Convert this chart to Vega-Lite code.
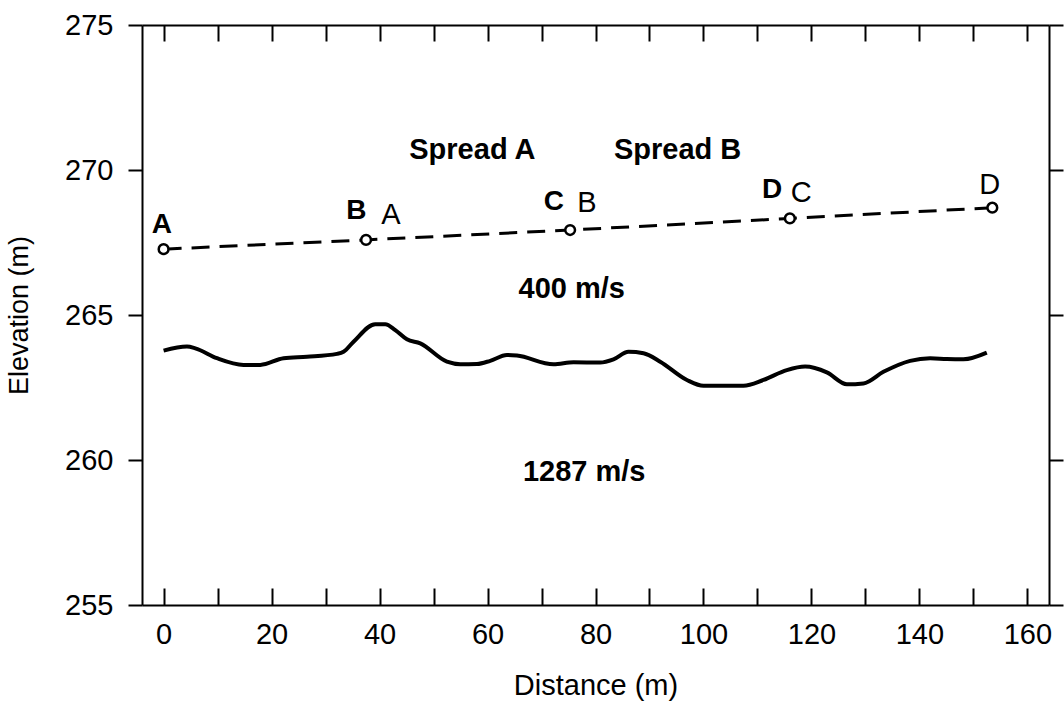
{
  "$schema": "https://vega.github.io/schema/vega-lite/v6.json",
  "width": 907,
  "height": 580,
  "autosize": "none",
  "padding": {"left": 142, "top": 25, "right": 15, "bottom": 104},
  "background": "white",
  "config": {
    "view": {"stroke": null},
    "font": "Liberation Sans",
    "axis": {
      "grid": false,
      "domainColor": "black",
      "domainWidth": 2,
      "tickColor": "black",
      "tickWidth": 2,
      "labelColor": "black",
      "labelFont": "Liberation Sans",
      "labelFontSize": 29,
      "titleFont": "Liberation Sans",
      "titleFontWeight": "normal",
      "titleColor": "black"
    }
  },
  "datasets": {
    "shot": [
      {"x": 0, "y": 267.27},
      {"x": 37.5, "y": 267.59},
      {"x": 75.3, "y": 267.93},
      {"x": 116.0, "y": 268.33},
      {"x": 153.5, "y": 268.7}
    ],
    "refractor": [
      {"x": 0, "y": 263.77},
      {"x": 4.33, "y": 263.91},
      {"x": 5.87, "y": 263.85},
      {"x": 9.89, "y": 263.51},
      {"x": 14.81, "y": 263.28},
      {"x": 17.91, "y": 263.28},
      {"x": 22.22, "y": 263.51},
      {"x": 26.56, "y": 263.56},
      {"x": 32.11, "y": 263.66},
      {"x": 33.33, "y": 263.73},
      {"x": 35.19, "y": 264.08},
      {"x": 39.2, "y": 264.68},
      {"x": 41.06, "y": 264.68},
      {"x": 42.91, "y": 264.48},
      {"x": 45.07, "y": 264.16},
      {"x": 47.54, "y": 264.02},
      {"x": 52.48, "y": 263.39},
      {"x": 54.94, "y": 263.3},
      {"x": 58.04, "y": 263.31},
      {"x": 60.5, "y": 263.42},
      {"x": 63.59, "y": 263.62},
      {"x": 65.44, "y": 263.6},
      {"x": 72.22, "y": 263.3},
      {"x": 75.93, "y": 263.37},
      {"x": 80.87, "y": 263.36},
      {"x": 83.33, "y": 263.47},
      {"x": 86.11, "y": 263.73},
      {"x": 88.89, "y": 263.68},
      {"x": 91.98, "y": 263.39},
      {"x": 96.93, "y": 262.76},
      {"x": 100.0, "y": 262.56},
      {"x": 107.41, "y": 262.56},
      {"x": 111.11, "y": 262.76},
      {"x": 115.44, "y": 263.1},
      {"x": 118.83, "y": 263.22},
      {"x": 122.85, "y": 263.02},
      {"x": 126.56, "y": 262.61},
      {"x": 129.63, "y": 262.64},
      {"x": 133.33, "y": 263.04},
      {"x": 138.28, "y": 263.42},
      {"x": 141.98, "y": 263.51},
      {"x": 145.07, "y": 263.48},
      {"x": 148.15, "y": 263.47},
      {"x": 152.48, "y": 263.7}
    ],
    "bold": [
      {"x": -0.3, "y": 268.1, "label": "A", "size": 28},
      {"x": 35.7, "y": 268.6, "label": "B", "size": 28},
      {"x": 72.3, "y": 268.91, "label": "C", "size": 28},
      {"x": 112.7, "y": 269.31, "label": "D", "size": 28},
      {"x": 57.2, "y": 270.69, "label": "Spread A", "size": 29},
      {"x": 95.2, "y": 270.69, "label": "Spread B", "size": 29},
      {"x": 75.6, "y": 265.88, "label": "400 m/s", "size": 29},
      {"x": 77.9, "y": 259.59, "label": "1287 m/s", "size": 29}
    ],
    "regular": [
      {"x": 42.1, "y": 268.45, "label": "A"},
      {"x": 78.4, "y": 268.85, "label": "B"},
      {"x": 118.1, "y": 269.22, "label": "C"},
      {"x": 153.0, "y": 269.48, "label": "D"}
    ]
  },
  "layer": [
    {
      "data": {"name": "shot"},
      "mark": {"type": "line", "color": "black", "strokeWidth": 3, "strokeDash": [18, 10]},
      "encoding": {
        "x": {
          "field": "x", "type": "quantitative",
          "scale": {"domain": [-4, 164], "nice": false, "zero": false},
          "axis": {
            "orient": "bottom",
            "title": "Distance (m)",
            "titleFontSize": 29,
            "titlePadding": 22,
            "values": [0, 10, 20, 30, 40, 50, 60, 70, 80, 90, 100, 110, 120, 130, 140, 150, 160],
            "labelExpr": "datum.value % 20 === 0 ? datum.label : ''",
            "tickSize": -17,
            "labelPadding": 32,
            "labelBaseline": "top"
          }
        },
        "y": {
          "field": "y", "type": "quantitative",
          "scale": {"domain": [255, 275], "nice": false, "zero": false},
          "axis": {
            "orient": "left",
            "title": "Elevation (m)",
            "titleFontSize": 27,
            "titlePadding": 31,
            "values": [255, 260, 265, 270, 275],
            "tickSize": 14,
            "labelPadding": 15
          }
        }
      }
    },
    {
      "data": {"name": "refractor"},
      "mark": {"type": "line", "color": "black", "strokeWidth": 4, "interpolate": "monotone"},
      "encoding": {
        "x": {
          "field": "x", "type": "quantitative",
          "axis": {
            "orient": "top",
            "title": null,
            "labels": false,
            "values": [0, 10, 20, 30, 40, 50, 60, 70, 80, 90, 100, 110, 120, 130, 140, 150, 160],
            "tickSize": -16
          }
        },
        "y": {
          "field": "y", "type": "quantitative",
          "axis": {
            "orient": "right",
            "title": null,
            "labels": false,
            "values": [255, 260, 265, 270, 275],
            "tickSize": 14
          }
        }
      }
    },
    {
      "data": {"name": "shot"},
      "mark": {"type": "point", "shape": "circle", "filled": false, "fill": "white", "fillOpacity": 1, "stroke": "black", "strokeWidth": 2.5, "size": 95, "opacity": 1},
      "encoding": {
        "x": {"field": "x", "type": "quantitative", "axis": null},
        "y": {"field": "y", "type": "quantitative", "axis": null}
      }
    },
    {
      "data": {"name": "bold"},
      "mark": {"type": "text", "fontWeight": "bold", "color": "black", "align": "center", "baseline": "middle", "font": "Liberation Sans"},
      "encoding": {
        "x": {"field": "x", "type": "quantitative", "axis": null},
        "y": {"field": "y", "type": "quantitative", "axis": null},
        "text": {"field": "label"},
        "size": {"field": "size", "type": "quantitative", "scale": null, "legend": null}
      }
    },
    {
      "data": {"name": "regular"},
      "mark": {"type": "text", "fontWeight": "normal", "color": "black", "align": "center", "baseline": "middle", "fontSize": 29, "font": "Liberation Sans"},
      "encoding": {
        "x": {"field": "x", "type": "quantitative", "axis": null},
        "y": {"field": "y", "type": "quantitative", "axis": null},
        "text": {"field": "label"}
      }
    }
  ],
  "resolve": {"axis": {"x": "independent", "y": "independent"}}
}
